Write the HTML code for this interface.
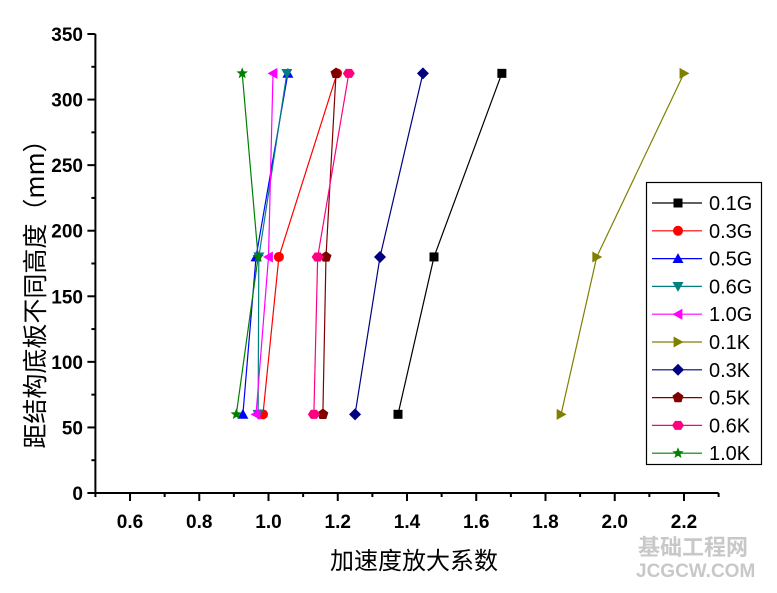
<!DOCTYPE html>
<html><head><meta charset="utf-8"><style>
body{margin:0;background:#fff;}
svg{display:block;font-family:"Liberation Sans",Arial,sans-serif;}
</style></head><body>
<svg id="chart" width="777" height="593" viewBox="0 0 777 593"></svg>
<script>
const heights=[60,180,320];
const seriesNames=["0.1G","0.3G","0.5G","0.6G","1.0G","0.1K","0.3K","0.5K","0.6K","1.0K"];
const s01G=[1.374,1.478,1.674];
const s03G=[0.984,1.03,1.198];
const s05G=[0.926,0.964,1.056];
const s06G=[0.97,0.972,1.053];
const s10G=[0.964,1.0,1.013];
const s01K=[1.845,1.948,2.2];
const s03K=[1.25,1.322,1.446];
const s05K=[1.157,1.166,1.195];
const s06K=[1.131,1.142,1.232];
const s10K=[0.907,0.97,0.924];
const xTicks=[0.6,0.8,1.0,1.2,1.4,1.6,1.8,2.0,2.2];
const yTicks=[0,50,100,150,200,250,300,350];

const allSeries=[s01G,s03G,s05G,s06G,s10G,s01K,s03K,s05K,s06K,s10K];
const colors=["#000000","#ff0000","#0000ff","#008080","#ff00ff","#808000","#000080","#800000","#ff0080","#008000"];
const shapes=["square","circle","up","down","left","right","diamond","pentagon","hexagon","star"];
const NS="http://www.w3.org/2000/svg";
const svg=document.getElementById("chart");
const X0=0.5,X1=2.3,PX0=95.4,PX1=718.6;
const Y0=0,Y1=350,PY0=493,PY1=34;
const xs=v=>PX0+(v-X0)/(X1-X0)*(PX1-PX0);
const ys=v=>PY0-(v-Y0)/(Y1-Y0)*(PY0-PY1);
function mk(tag,attrs,parent){const e=document.createElementNS(NS,tag);for(const k in attrs)e.setAttribute(k,attrs[k]);(parent||svg).appendChild(e);return e;}
function marker(shape,cx,cy,color,g){
  const r=5.5;let e;
  const poly=pts=>mk("polygon",{points:pts.map(p=>(cx+p[0])+","+(cy+p[1])).join(" "),fill:color},g);
  if(shape==="square")e=mk("rect",{x:cx-4.5,y:cy-4.5,width:9,height:9,fill:color},g);
  else if(shape==="circle")e=mk("circle",{cx:cx,cy:cy,r:5,fill:color},g);
  else if(shape==="up")e=poly([[0,-r],[r,r*0.8],[-r,r*0.8]]);
  else if(shape==="down")e=poly([[0,r],[r,-r*0.8],[-r,-r*0.8]]);
  else if(shape==="left")e=poly([[-r,0],[r*0.8,-r],[r*0.8,r]]);
  else if(shape==="right")e=poly([[r,0],[-r*0.8,-r],[-r*0.8,r]]);
  else if(shape==="diamond")e=poly([[0,-6],[6,0],[0,6],[-6,0]]);
  else if(shape==="pentagon"){const p=[];for(let i=0;i<5;i++){const a=-Math.PI/2+i*2*Math.PI/5;p.push([5.8*Math.cos(a),5.8*Math.sin(a)]);}e=poly(p);}
  else if(shape==="hexagon"){const p=[];for(let i=0;i<6;i++){const a=i*Math.PI/3;p.push([6*Math.cos(a),5.2*Math.sin(a)]);}e=poly(p);}
  else {const p=[];for(let i=0;i<10;i++){const a=-Math.PI/2+i*Math.PI/5;const rr=i%2?2.6:6;p.push([rr*Math.cos(a),rr*Math.sin(a)]);}e=poly(p);}
  return e;
}
const ax=mk("g",{});


mk("line",{x1:PX0,y1:PY0,x2:PX1,y2:PY0,stroke:"#000","stroke-width":2},ax);
mk("line",{x1:PX0,y1:PY0,x2:PX0,y2:PY1,stroke:"#000","stroke-width":2},ax);
for(let v=0.5;v<=2.301;v+=0.1){const x=xs(v);const major=xTicks.some(t=>Math.abs(t-v)<1e-6);mk("line",{x1:x,y1:PY0,x2:x,y2:PY0+(major?8:4),stroke:"#000","stroke-width":2},ax);}
xTicks.forEach(t=>{const tx=mk("text",{x:xs(t),y:528,"text-anchor":"middle","font-size":19,"font-weight":"bold"},ax);tx.textContent=t.toFixed(1);

});
for(let v=0;v<=350;v+=25){const y=ys(v);const major=v%50===0;mk("line",{x1:PX0,y1:y,x2:PX0-(major?8:4),y2:y,stroke:"#000","stroke-width":2},ax);}
yTicks.forEach(t=>{const tx=mk("text",{x:83,y:ys(t)+7,"text-anchor":"end","font-size":19,"font-weight":"bold"},ax);tx.textContent=t;

});
const xt=mk("text",{x:414,y:569,"text-anchor":"middle","font-size":24,"font-family":"'Noto Sans CJK SC',sans-serif"});xt.textContent="加速度放大系数";


const yt=mk("text",{x:0,y:0,"text-anchor":"middle","font-size":25,transform:"translate(44,288) rotate(-90)","font-family":"'Noto Sans CJK SC',sans-serif"});yt.textContent="距结构底板不同高度（mm）";


allSeries.forEach((s,i)=>{
  const g=mk("g",{});
  
  
  mk("polyline",{points:s.map((v,j)=>xs(v)+","+ys(heights[j])).join(" "),fill:"none",stroke:colors[i],"stroke-width":1.2},g);
  s.forEach((v,j)=>{const m=marker(shapes[i],xs(v),ys(heights[j]),colors[i],g);
  
  });
});
const lg=mk("g",{});


mk("rect",{x:646.5,y:182.5,width:115,height:282,fill:"#fff",stroke:"#000","stroke-width":1.2},lg);
seriesNames.forEach((n,i)=>{
  const y=203+i*27.8;
  const e=mk("g",{},lg);
  
  
  mk("line",{x1:652,y1:y,x2:702,y2:y,stroke:colors[i],"stroke-width":1.2},e);
  marker(shapes[i],678,y,colors[i],e);
  const t=mk("text",{x:709,y:y+7,"font-size":20},e);t.textContent=n;
});
const wm=mk("text",{x:638,y:555,"font-size":22,fill:"#c8c8c8","font-weight":"bold","font-family":"'Noto Sans CJK SC',sans-serif"});wm.textContent="基础工程网";


const wm2=mk("text",{x:636,y:577,"font-size":19,fill:"#c8c8c8","font-weight":"bold"});wm2.textContent="JCGCW.COM";


</script>
</body></html>
